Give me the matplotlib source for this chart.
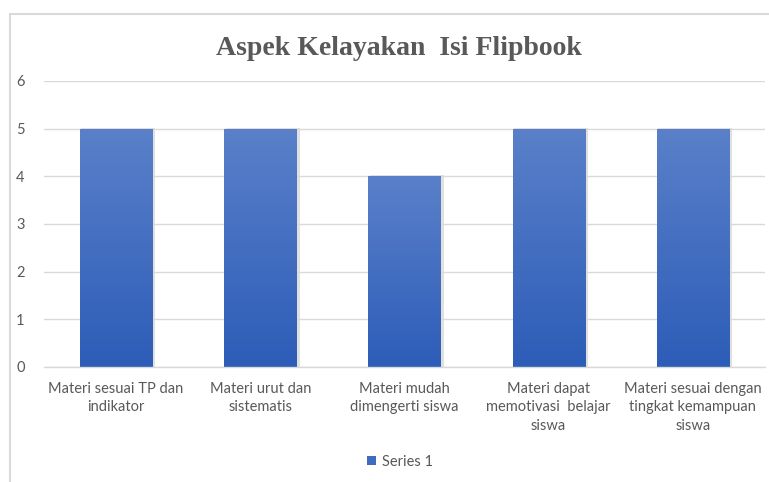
import numpy as np
import matplotlib.pyplot as plt
from matplotlib.patches import Rectangle
from matplotlib.colors import LinearSegmentedColormap

categories = ['Materi sesuai TP dan\nindikator',
              'Materi urut dan\nsistematis',
              'Materi mudah\ndimengerti siswa',
              'Materi dapat\nmemotivasi  belajar\nsiswa',
              'Materi sesuai dengan\ntingkat kemampuan\nsiswa']
values = [5, 5, 4, 5, 5]
yticks = [0, 1, 2, 3, 4, 5, 6]
series_name = 'Series 1'

txt_color = '#595959'
grad = LinearSegmentedColormap.from_list('bar', ['#2D5DB8', '#5A80C9'])

fig = plt.figure(figsize=(7.69, 4.82), dpi=100)
ax = fig.add_axes([0.0572, 0.2386, 0.9376, 0.5934])

x = np.arange(len(categories))
bars = ax.bar(x, values, width=0.5, color='#3F6CC0', zorder=2, label=series_name)

# gradient fill clipped to each bar
g = np.linspace(0, 1, 256).reshape(-1, 1)
for b in bars:
    x0, w, h = b.get_x(), b.get_width(), b.get_height()
    # soft shadow
    ax.add_patch(Rectangle((x0 + 0.01, 0), w + 0.012, h + 0.02, color='#000000',
                           alpha=0.12, lw=0, zorder=1.5))
    im = ax.imshow(g, cmap=grad, extent=[x0, x0 + w, 0, h], origin='lower',
                   aspect='auto', zorder=2.5)
    im.set_clip_path(b)

ax.set_xlim(-0.5, len(categories) - 0.5)
ax.set_ylim(0, 6)
ax.set_yticks(yticks)
ax.set_xticks(x)
ax.set_xticklabels(categories, fontsize=10.5, color=txt_color, family='Lato',
                   linespacing=1.38)
for t in ax.get_yticklabels():
    t.set_color(txt_color)
    t.set_fontsize(10.5)
    t.set_family('Lato')
ax.tick_params(axis='both', length=0)
ax.tick_params(axis='y', pad=14)
ax.tick_params(axis='x', pad=11)
ax.grid(axis='y', color='#D9D9D9', lw=1, zorder=0)
for s in ['left', 'right', 'top']:
    ax.spines[s].set_visible(False)
ax.spines['bottom'].set_color('#D9D9D9')
ax.spines['bottom'].set_linewidth(1)

fig.text(0.519, 0.9, 'Aspek Kelayakan  Isi Flipbook', ha='center', va='center',
         fontsize=20, fontweight='bold', family='Liberation Serif', color=txt_color)

leg = fig.legend(handles=[bars], labels=[series_name], loc='center',
                 bbox_to_anchor=(0.52, 0.042), frameon=False,
                 handlelength=0.6, handleheight=0.6, handletextpad=0.4,
                 prop={'family': 'Lato', 'size': 10.5})
for t in leg.get_texts():
    t.set_color(txt_color)

# outer chart frame
fig.patches.append(Rectangle((10 / 769, -0.1), 1.2, 1 - 13.5 / 482 + 0.1,
                             transform=fig.transFigure, fill=False,
                             edgecolor='#D9D9D9', lw=1.5))

fig.savefig('out.png', dpi=100)
